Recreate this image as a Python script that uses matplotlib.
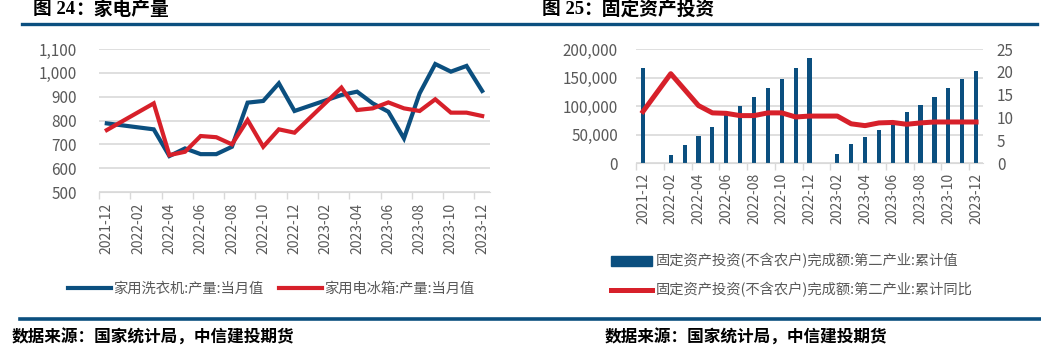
import matplotlib
matplotlib.use("Agg")
import matplotlib.pyplot as plt
from matplotlib.lines import Line2D
from matplotlib.ticker import FuncFormatter, FixedLocator
import numpy as np

plt.rcParams['font.family'] = ['Noto Sans CJK SC', 'DejaVu Sans']

BLUE = '#0b4f7f'
RED = '#d7202a'
GRID = '#d9d9d9'
TXT = '#595959'

months = ['2021-12', '2022-01', '2022-02', '2022-03', '2022-04', '2022-05',
          '2022-06', '2022-07', '2022-08', '2022-09', '2022-10', '2022-11',
          '2022-12', '2023-01', '2023-02', '2023-03', '2023-04', '2023-05',
          '2023-06', '2023-07', '2023-08', '2023-09', '2023-10', '2023-11',
          '2023-12']

# 家电产量 (万台), Jan values not published
washer = [788, None, None, 763, 651, 683, 659, 659, 690, 875, 882, 956, 840,
          None, None, 907, 921, 872, 837, 725, 914, 1037, 1005, 1029, 924]
fridge = [760, None, None, 872, 655, 669, 735, 730, 700, 802, 690, 763, 749,
          None, None, 938, 844, 851, 876, 851, 840, 889, 833, 833, 819]

# 固定资产投资 第二产业
fai_value = [167000, None, 14000, 31000, 47000, 63000, 84000, 100000, 115000,
             131000, 148000, 166000, 184000, None, 15200, 33000, 45000, 58000,
             72000, 89000, 102000, 116000, 132000, 147000, 161500]
fai_yoy = [11.3, None, 19.6, 16.1, 12.6, 11.0, 10.9, 10.4, 10.4, 11.0, 11.0,
           10.1, 10.3, None, 10.3, 8.6, 8.2, 8.8, 8.9, 8.5, 8.8, 9.0, 9.0,
           9.0, 9.0]

left_labels = ['家用洗衣机:产量:当月值', '家用电冰箱:产量:当月值']
right_labels = ['固定资产投资(不含农户)完成额:第二产业:累计值',
                '固定资产投资(不含农户)完成额:第二产业:累计同比']


def valid(series):
    xs = [i for i, v in enumerate(series) if v is not None]
    ys = [series[i] for i in xs]
    return xs, ys


def style_xaxis(ax, pad):
    n = len(months)
    ax.set_xlim(-0.5, n - 0.5)
    ax.xaxis.set_major_locator(FixedLocator(range(0, n, 2)))
    ax.set_xticklabels(months[::2], rotation=90, color=TXT, fontsize=10)
    ax.xaxis.set_minor_locator(FixedLocator(np.arange(-0.5, n - 1, 2)))
    ax.tick_params(axis='x', which='major', length=0, pad=pad)
    ax.tick_params(axis='x', which='minor', length=5, color=GRID, width=1)
    for s in ['top', 'right', 'left']:
        ax.spines[s].set_visible(False)
    ax.spines['bottom'].set_color(GRID)
    ax.grid(axis='y', color=GRID, linewidth=1.2)
    ax.set_axisbelow(True)


fig = plt.figure(figsize=(10.41, 3.55), dpi=100)

# ---- left chart ----
ax1 = fig.add_axes([0.0951, 0.459, 0.3756, 0.403])
x, y = valid(washer)
ax1.plot(x, y, color=BLUE, linewidth=3, solid_joinstyle='miter')
x, y = valid(fridge)
ax1.plot(x, y, color=RED, linewidth=3, solid_joinstyle='miter')
ax1.set_ylim(500, 1100)
ax1.set_yticks(range(500, 1101, 100))
ax1.yaxis.set_major_formatter(FuncFormatter(lambda v, p: f'{int(v):,}'))
ax1.tick_params(axis='y', length=0, pad=16, labelsize=11, labelcolor=TXT)
style_xaxis(ax1, 8)

h1 = [Line2D([], [], color=BLUE, linewidth=3),
      Line2D([], [], color=RED, linewidth=3)]
fig.legend(h1, left_labels, loc='center left', bbox_to_anchor=(0.065, 0.186),
           ncol=2, frameon=False, fontsize=10.3, handlelength=3.0,
           handletextpad=0.2, columnspacing=1.05, borderpad=0,
           borderaxespad=0, labelcolor=TXT)

# ---- right chart ----
ax2 = fig.add_axes([0.611, 0.5408, 0.3333, 0.321])
x, y = valid(fai_value)
ax2.bar(x, y, width=0.3, color=BLUE, zorder=2)
ax2.set_ylim(0, 200000)
ax2.set_yticks(range(0, 200001, 50000))
ax2.yaxis.set_major_formatter(FuncFormatter(lambda v, p: f'{int(v):,}'))
ax2.tick_params(axis='y', length=0, pad=13, labelsize=11, labelcolor=TXT)
style_xaxis(ax2, 7)

ax3 = ax2.twinx()
x, y = valid(fai_yoy)
ax3.plot(x, y, color=RED, linewidth=3.6, zorder=3)
ax3.set_ylim(0, 25)
ax3.set_yticks(range(0, 26, 5))
ax3.tick_params(axis='y', length=0, pad=10, labelsize=11, labelcolor=TXT)
for s in ['top', 'right', 'left', 'bottom']:
    ax3.spines[s].set_visible(False)

h2 = [plt.Rectangle((0, 0), 1, 1, color=BLUE),
      Line2D([], [], color=RED, linewidth=3.6)]
fig.legend(h2, right_labels, loc='center left', bbox_to_anchor=(0.587, 0.224),
           ncol=1, frameon=False, fontsize=10.3, handlelength=2.85,
           handletextpad=0.3, labelspacing=0.95, borderpad=0,
           borderaxespad=0, labelcolor=TXT)

# ---- titles, rules, sources ----
serif = ['Liberation Serif', 'Noto Sans CJK SC']
ty = 1 - 9 / 355
fig.text(33 / 1041, ty, '图 24', fontsize=13.5, fontweight='bold',
         family=serif, va='center', ha='left')
fig.text(75 / 1041, ty, '：家电产量', fontsize=13.5, fontweight='bold',
         va='center', ha='left')
fig.text(542 / 1041, ty, '图 25', fontsize=13.5, fontweight='bold',
         family=serif, va='center', ha='left')
fig.text(583 / 1041, ty, '：固定资产投资', fontsize=13.5, fontweight='bold',
         va='center', ha='left')

fig.add_artist(Line2D([22 / 1041, 1037 / 1041], [1 - 24 / 355] * 2,
                      color=BLUE, linewidth=2.4))
fig.add_artist(Line2D([20 / 1041, 1.0], [1 - 319 / 355] * 2,
                      color=BLUE, linewidth=2.6))

src = '数据来源：国家统计局，中信建投期货'
fig.text(12 / 1041, 1 - 338 / 355, src, fontsize=12, fontweight='bold',
         va='center', ha='left')
fig.text(605 / 1041, 1 - 338 / 355, src, fontsize=12, fontweight='bold',
         va='center', ha='left')

fig.savefig('out.png', dpi=100)
